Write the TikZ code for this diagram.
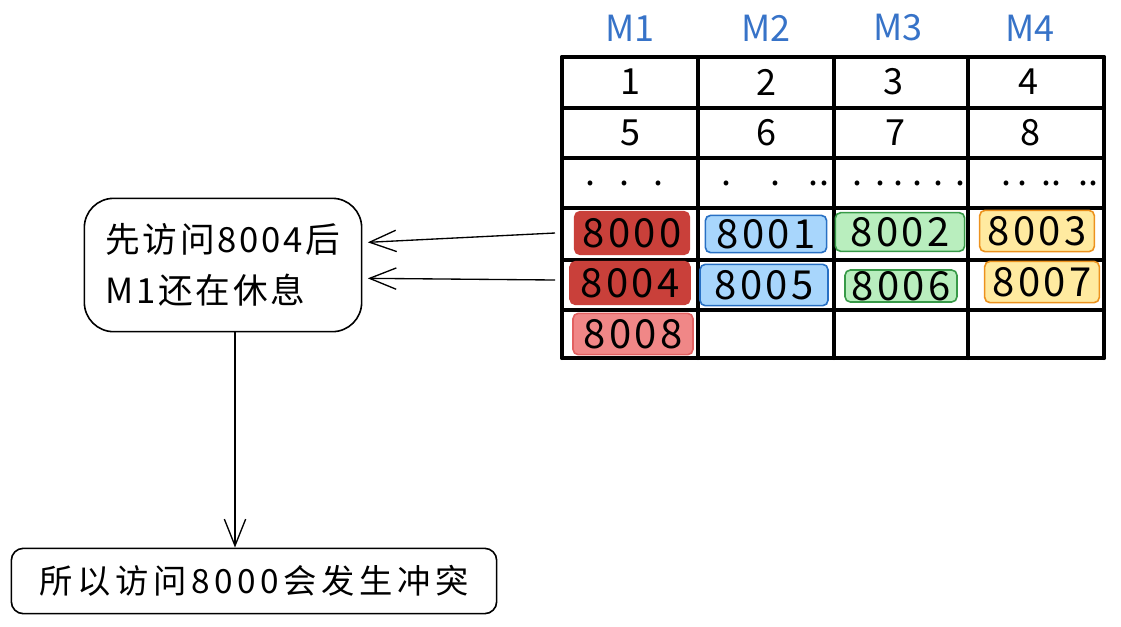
\documentclass[tikz,border=0pt]{standalone}
\usepackage{fontspec}
\setmainfont{Noto Sans CJK SC}
\newfontfamily\cjknote[LetterSpace=8]{Noto Sans CJK SC}
\newfontfamily\cjkaddr[LetterSpace=8]{Noto Sans CJK SC}
\newfontfamily\cjkres[LetterSpace=14]{Noto Sans CJK SC}
\usetikzlibrary{arrows.meta}

\definecolor{mblue}{RGB}{55,115,200}
\definecolor{redfill}{RGB}{201,64,58}
\definecolor{pinkfill}{RGB}{240,135,135}
\definecolor{pinkline}{RGB}{226,96,96}
\definecolor{bluefill}{RGB}{168,214,252}
\definecolor{blueline}{RGB}{40,112,196}
\definecolor{greenfill}{RGB}{185,238,190}
\definecolor{greenline}{RGB}{56,154,72}
\definecolor{yellowfill}{RGB}{255,234,160}
\definecolor{yellowline}{RGB}{236,146,30}

\tikzset{
  grid line/.style={line width=3pt, line cap=round},
  head/.style={text=mblue, inner sep=0pt, font=\fontsize{27}{27}\selectfont},
  cell/.style={inner sep=0pt, font=\fontsize{27}{27}\selectfont},
  addr/.style={draw, line width=1.2pt, rounded corners=4pt, inner sep=0pt,
    font=\cjkaddr\fontsize{30}{30}\selectfont},
  arr/.style={line width=1pt, -{Straight Barb[length=20pt,width=16pt]}}
}

\begin{document}
\begin{tikzpicture}[x=0.75pt,y=0.75pt,yscale=-1,xscale=1]
\useasboundingbox (0,0) rectangle (1121,626);

%Table grid
\foreach \x in {562,698,834,968,1104}
  \draw [grid line] (\x,57) -- (\x,358) ;
\foreach \y in {57,108,158,208,260,310,358}
  \draw [grid line] (562,\y) -- (1104,\y) ;

% Column heads
\node (hM1) [head] at (630,28) {M1};
\node (hM2) [head] at (766,28) {M2};
\node (hM3) [head] at (898,28) {M3};
\node (hM4) [head] at (1030,28) {M4};

% Rows 1 and 2
\node (c1) [cell] at (630,82) {1};
\node (c2) [cell] at (766,82) {2};
\node (c3) [cell] at (893,82) {3};
\node (c4) [cell] at (1028,82) {4};
\node (c5) [cell] at (630,133) {5};
\node (c6) [cell] at (766,133) {6};
\node (c7) [cell] at (895,133) {7};
\node (c8) [cell] at (1030,133) {8};

% Dots row
\node (d1) [cell] at (625,183) {.\hspace{18pt}.\hspace{18pt}.};
\node (d2) [cell] at (776,183) {.\hspace{29pt}.\hspace{21pt}.\hspace{1pt}.};
\node (d3) [cell] at (909,183) {.\hspace{10pt}.\hspace{6pt}.\hspace{7pt}.\hspace{8pt}.\hspace{9pt}.};
\node (d4) [cell] at (1050,183) {.\hspace{4pt}.\hspace{11pt}..\hspace{12pt}..};

% Address boxes
\node (a8000) [addr, fill=redfill, draw=redfill, minimum width=86pt, minimum height=32pt] at (632,233) {8000};
\node (a8001) [addr, fill=bluefill, draw=blueline, minimum width=91pt, minimum height=28pt] at (766,234) {8001};
\node (a8002) [addr, fill=greenfill, draw=greenline, minimum width=97pt, minimum height=29pt] at (900,232) {8002};
\node (a8003) [addr, fill=yellowfill, draw=yellowline, minimum width=86pt, minimum height=31pt] at (1037,231) {8003};
\node (a8004) [addr, fill=redfill, draw=redfill, minimum width=90pt, minimum height=32pt] at (630,283) {8004};
\node (a8005) [addr, fill=bluefill, draw=blueline, minimum width=96pt, minimum height=31pt] at (764,285) {8005};
\node (a8006) [addr, fill=greenfill, draw=greenline, minimum width=84pt, minimum height=24pt] at (901,286) {8006};
\node (a8007) [addr, fill=yellowfill, draw=yellowline, minimum width=86pt, minimum height=31pt] at (1042,282) {8007};
\node (a8008) [addr, fill=pinkfill, draw=pinkline, minimum width=90pt, minimum height=31pt] at (633,334) {8008};

% Note box
\node (note) [draw, line width=1.2pt, rounded corners=22pt, minimum width=208pt, minimum height=100pt,
  align=left, font=\cjknote\fontsize{26}{38}\selectfont] at (223,265) {先访问8004后\\M1还在休息};

% Result box
\node (result) [draw, line width=1.2pt, rounded corners=9pt, minimum width=364pt, minimum height=49pt,
  font=\cjkres\fontsize{25}{25}\selectfont] at (254,581) {所以访问8000会发生冲突};

% Arrows
\coordinate (from1) at (555,233);
\coordinate (from2) at (555,280);
\draw [arr] (from1) -- ([xshift=4pt,yshift=-17pt]note.east) ;
\draw [arr] (from2) -- ([xshift=4pt,yshift=10pt]note.east) ;
\draw [arr] ([xshift=9pt]note.south) -- ([xshift=9pt]note.south |- result.north) ;

\end{tikzpicture}
\end{document}
